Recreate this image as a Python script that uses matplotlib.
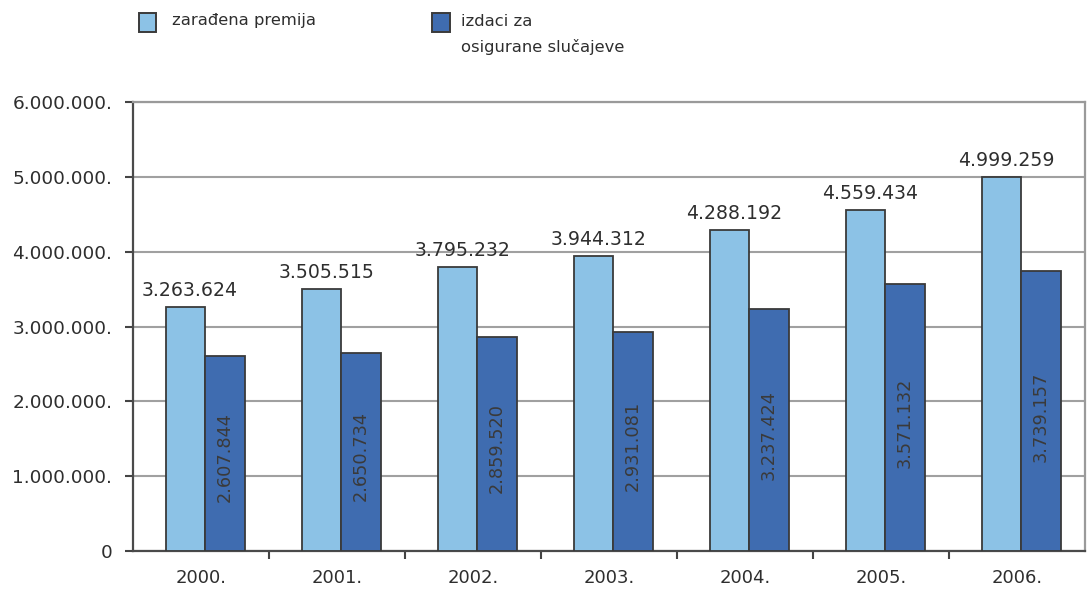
import matplotlib.pyplot as plt
import numpy as np
from matplotlib.patches import Rectangle
from matplotlib.ticker import FixedLocator

years = ['2000.', '2001.', '2002.', '2003.', '2004.', '2005.', '2006.']
premija = [3263624, 3505515, 3795232, 3944312, 4288192, 4559434, 4999259]
izdaci = [2607844, 2650734, 2859520, 2931081, 3237424, 3571132, 3739157]
y_ticks = [0, 1000000, 2000000, 3000000, 4000000, 5000000, 6000000]
y_labels = ['0', '1.000.000.', '2.000.000.', '3.000.000.', '4.000.000.', '5.000.000.', '6.000.000.']

light = '#8cc2e6'
dark = '#3f6cb0'
edge = '#3a3a3a'
txt = '#2e2e2e'

def fmt(v):
    return f'{v:,}'.replace(',', '.')

plt.rcParams['font.family'] = ['DejaVu Sans']

fig = plt.figure(figsize=(10.87, 5.92), dpi=100)
ax = fig.add_axes([133 / 1087, 41 / 592, 952 / 1087, 449 / 592])

x = np.arange(len(years))
w = 0.29
ax.bar(x - w / 2 + 0.03, premija, w, color=light, edgecolor=edge, linewidth=1.3, zorder=3)
ax.bar(x + w / 2 + 0.03, izdaci, w, color=dark, edgecolor=edge, linewidth=1.3, zorder=3)

# value labels
for i in range(len(years)):
    ax.text(x[i] - w / 2 + 0.065, premija[i] + 90000, fmt(premija[i]), ha='center', va='bottom',
            fontsize=13.6, color=txt, zorder=4)
    ax.text(x[i] + w / 2 + 0.03, izdaci[i] * 0.48, fmt(izdaci[i]), ha='center', va='center',
            rotation=90, fontsize=12.8, color='#3a3a3a', zorder=4)

ax.set_xlim(-0.5, len(years) - 0.5)
ax.set_ylim(0, 6000000)
ax.yaxis.set_major_locator(FixedLocator(y_ticks))
ax.set_yticklabels(y_labels, fontsize=13.3, color=txt)
ax.set_xticks(x)
ax.set_xticklabels(years, fontsize=13, color=txt)
ax.xaxis.set_minor_locator(FixedLocator(np.arange(0.5, len(years) - 1, 1)))
ax.tick_params(axis='x', which='major', length=0, pad=13)
ax.tick_params(axis='x', which='minor', length=6, width=1.5, color='#444444')
ax.tick_params(axis='y', length=6, width=1.5, color='#444444', pad=9)

ax.grid(axis='y', color='#a0a0a0', linewidth=1.5, zorder=0)
for s in ax.spines.values():
    s.set_color('#4a4a4a')
    s.set_linewidth(1.6)
ax.spines['top'].set_color('#9a9a9a')
ax.spines['right'].set_color('#9a9a9a')

# legend drawn by hand
fig.patches.append(Rectangle((139 / 1087, 1 - 32 / 592), 17 / 1087, 19 / 592,
                             transform=fig.transFigure, facecolor=light,
                             edgecolor=edge, linewidth=1.4))
fig.text(172 / 1087, 1 - 21 / 592, 'zarađena premija', fontsize=11.8, color=txt, va='center')
fig.patches.append(Rectangle((432 / 1087, 1 - 32 / 592), 18 / 1087, 19 / 592,
                             transform=fig.transFigure, facecolor=dark,
                             edgecolor=edge, linewidth=1.4))
fig.text(461 / 1087, 1 - 21 / 592, 'izdaci za', fontsize=11.8, color=txt, va='center')
fig.text(461 / 1087, 1 - 47 / 592, 'osigurane slučajeve', fontsize=11.8, color=txt, va='center')

fig.savefig('out.png', dpi=100)
